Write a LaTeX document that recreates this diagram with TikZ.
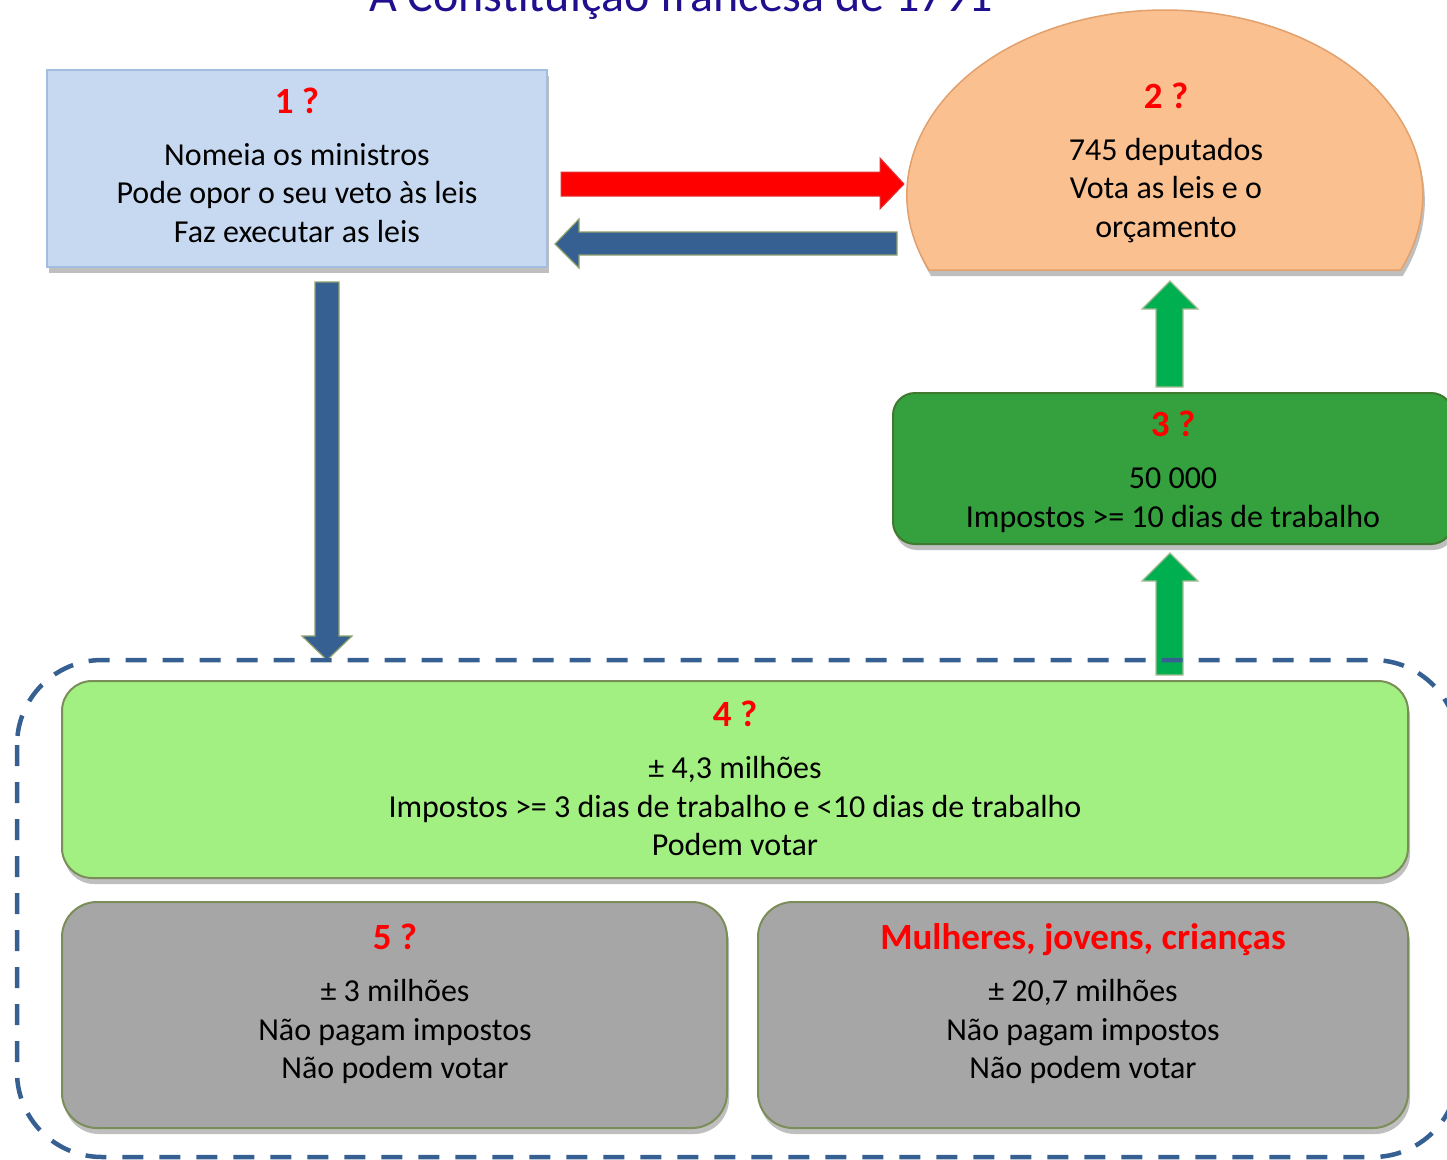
\documentclass[tikz,border=0pt]{standalone}
\usepackage{fontspec}
\setmainfont{Carlito}
\usetikzlibrary{shadows}
\definecolor{ttlblue}{RGB}{32,16,144}
\definecolor{b1fill}{HTML}{C6D9F1}
\definecolor{b1line}{HTML}{A3BDE0}
\definecolor{orfill}{HTML}{FAC090}
\definecolor{orline}{HTML}{E2A06C}
\definecolor{darkblue}{HTML}{376092}
\definecolor{arrline}{HTML}{8FA26B}
\definecolor{grarrow}{HTML}{00B050}
\definecolor{grline}{HTML}{A9BD94}
\definecolor{b3fill}{HTML}{34A03E}
\definecolor{b3line}{HTML}{3F7A30}
\definecolor{b4fill}{HTML}{A2F082}
\definecolor{olive}{HTML}{7B8D58}
\definecolor{greyfill}{HTML}{A6A6A6}
\begin{document}
\begin{tikzpicture}[x=1pt,y=-1pt,
  shd/.style={drop shadow={shadow xshift=2pt,shadow yshift=-6pt,opacity=.25,fill=black}},
  boxa/.style={shd,draw=b1line,line width=2.5pt,fill=b1fill,inner sep=0pt},
  boxr/.style={shd,draw=olive,line width=2pt,inner sep=0pt},
  tt/.style={anchor=base,inner sep=0pt,text=red,font=\fontsize{37}{44}\selectfont\bfseries},
  tx/.style={anchor=base,inner sep=0pt,font=\fontsize{32}{39}\selectfont},
  fatred/.style={fill=red,draw={rgb,255:red,225;green,50;blue,50},line width=1pt},
  fatblue/.style={fill=darkblue,draw=arrline,line width=1.2pt},
  fatgreen/.style={fill=grarrow,draw=grline,line width=1.2pt}]
\useasboundingbox (0,0) rectangle (1447,1159);

% title (cut by the page top, as in the original)
\node[anchor=base,inner sep=0pt,text=ttlblue,font=\fontsize{48}{56}\selectfont] (title) at (681,12) {A Constituição francesa de 1791};

% box 1
\node[boxa,minimum width=500pt,minimum height=197pt] (b1) at (297,168.5) {};
\node[tt] (b1t) at (297,113) {1 ?};
\node[tx] (b1a) at (297,165) {Nomeia os ministros};
\node[tx] (b1b) at (297,203) {Pode opor o seu veto às leis};
\node[tx] (b1c) at (297,242) {Faz executar as leis};

% box 2 (cut ellipse)
\filldraw[shd,fill=orfill,draw=orline,line width=1.5pt]
  (929,270) arc[start angle=156.1,end angle=383.9,x radius=258,y radius=185] -- cycle;
\coordinate (b2) at (1165,195);
\node[tt] (b2t) at (1166,108) {2 ?};
\node[tx] (b2a) at (1166,160) {745 deputados};
\node[tx] (b2b) at (1166,198) {Vota as leis e o};
\node[tx] (b2c) at (1166,237) {orçamento};

% horizontal fat arrows
\draw[fatred] (561,172) -- (880,172) -- (880,158) -- (904,184) -- (880,209) -- (880,196) -- (561,196) -- cycle;
\draw[fatblue] (897,232) -- (579,232) -- (579,219) -- (555,244) -- (579,268) -- (579,255) -- (897,255) -- cycle;

% vertical blue arrow
\draw[fatblue] (315,282) -- (339,282) -- (339,636) -- (352,636) -- (327,660) -- (302,636) -- (315,636) -- cycle;

% green arrows
\draw[fatgreen] (1156,387) -- (1156,309) -- (1142,309) -- (1170,281) -- (1198,309) -- (1183,309) -- (1183,387) -- cycle;
\draw[fatgreen] (1156,675) -- (1156,581) -- (1142,581) -- (1170,553) -- (1198,581) -- (1183,581) -- (1183,675) -- cycle;

% box 3
\node[boxr,draw=b3line,fill=b3fill,rounded corners=22pt,minimum width=560pt,minimum height=151pt] (b3) at (1173,468.5) {};
\node[tt] (b3t) at (1173,436) {3 ?};
\node[tx] (b3a) at (1173,488) {50 000};
\node[tx] (b3b) at (1173,527) {Impostos >= 10 dias de trabalho};

% dashed frame
\draw[darkblue,line width=4.5pt,dash pattern=on 21pt off 16pt,rounded corners=85pt] (17,660) rectangle (1458,1157);
\coordinate (frame) at (737,908);

% box 4
\node[boxr,fill=b4fill,rounded corners=30pt,minimum width=1346pt,minimum height=197pt] (b4) at (735,779.5) {};
\node[tt] (b4t) at (735,726) {4 ?};
\node[tx] (b4a) at (735,778) {± 4,3 milhões};
\node[tx] (b4b) at (735,817) {Impostos >= 3 dias de trabalho e <10 dias de trabalho};
\node[tx] (b4c) at (735,855) {Podem votar};

% box 5
\node[boxr,fill=greyfill,rounded corners=35pt,minimum width=665pt,minimum height=226pt] (b5) at (394.5,1015) {};
\node[tt] (b5t) at (395,949) {5 ?};
\node[tx] (b5a) at (395,1001) {± 3 milhões};
\node[tx] (b5b) at (395,1040) {Não pagam impostos};
\node[tx] (b5c) at (395,1078) {Não podem votar};

% box 6
\node[boxr,fill=greyfill,rounded corners=35pt,minimum width=650pt,minimum height=226pt] (b6) at (1083,1015) {};
\node[tt] (b6t) at (1083,949) {Mulheres, jovens, crianças};
\node[tx] (b6a) at (1083,1001) {± 20,7 milhões};
\node[tx] (b6b) at (1083,1040) {Não pagam impostos};
\node[tx] (b6c) at (1083,1078) {Não podem votar};
\end{tikzpicture}
\end{document}
